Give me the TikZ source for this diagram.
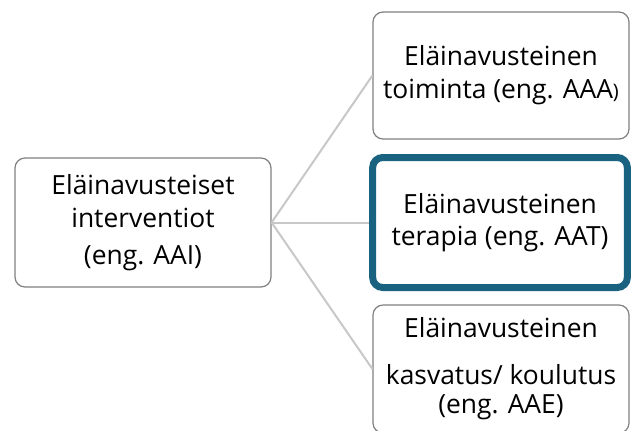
\documentclass[tikz,border=0pt]{standalone}
\usepackage{fontspec}
\setmainfont{Open Sans}
\definecolor{boxgray}{RGB}{128,128,128}
\definecolor{linegray}{RGB}{200,200,200}
\definecolor{teal1}{RGB}{26,99,128}
\begin{document}
\begin{tikzpicture}[x=0.75pt,y=-0.75pt,
  box/.style={draw=boxgray,line width=0.9pt,rounded corners=7.5pt,fill=white,
    minimum width=192pt,minimum height=96pt,align=center,inner sep=0pt,
    font=\fontsize{19.8}{24.5}\selectfont,text=black},
  hbox/.style={box,draw=teal1,line width=5.25pt,minimum width=191pt,minimum height=97.5pt},
  conn/.style={draw=linegray,line width=1.5pt}]
\useasboundingbox (0,0) rectangle (638,430);
\clip (0,0) rectangle (638,430);
\fill[white] (0,0) rectangle (638,430);
\node[box,minimum height=96.75pt] (L) at (143,222.5) {Eläinavusteiset\\[0pt]interventiot\\[3pt](eng. AAI)};
\node[box,minimum height=95.25pt] (T) at (501,75.5) {\raisebox{-2pt}{\begin{tabular}{@{}c@{}}Eläinavusteinen\\toiminta (eng. AAA{\fontsize{15}{15}\selectfont)}\end{tabular}}};
\node[hbox] (M) at (500,222.5) {Eläinavusteinen\\terapia (eng. AAT)};
\node[box] (B) at (501,369) {\raisebox{-4pt}{\begin{tabular}{@{}c@{}}Eläinavusteinen\\[10.5pt]kasvatus/ koulutus\\[-3pt](eng. AAE)\end{tabular}}};
\draw[conn] (L.east) -- (T.west);
\draw[conn] (L.east) -- (M.west);
\draw[conn] (L.east) -- (B.west);
\end{tikzpicture}
\end{document}
